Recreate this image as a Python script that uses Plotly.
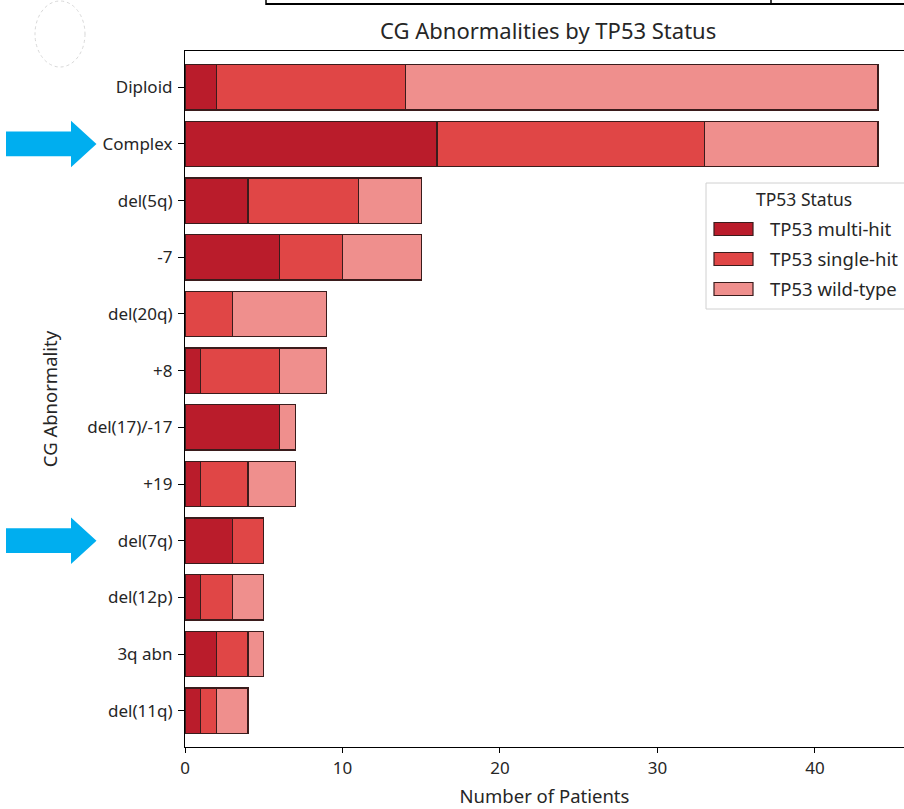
import plotly.graph_objects as go

# Cytogenetic abnormalities, top to bottom
categories = ["Diploid", "Complex", "del(5q)", "-7", "del(20q)", "+8",
              "del(17)/-17", "+19", "del(7q)", "del(12p)", "3q abn", "del(11q)"]

multi_hit = [2, 16, 4, 6, 0, 1, 6, 1, 3, 1, 2, 1]
single_hit = [12, 17, 7, 4, 3, 5, 0, 3, 2, 2, 2, 1]
wild_type = [30, 11, 4, 5, 6, 3, 1, 3, 0, 2, 1, 2]

series_names = ["TP53 multi-hit", "TP53 single-hit", "TP53 wild-type"]
series_values = [multi_hit, single_hit, wild_type]
series_colors = ["#BA1C2B", "#E04646", "#EF8F8D"]

highlighted = ["Complex", "del(7q)"]
x_ticks = [0, 10, 20, 30, 40]

FONT = "Noto Sans"
TEXT = "#262626"
EDGE = "#3a1c1c"

W, H = 904, 809
L, R, T, B = 185, 904, 51, 747


def px(x):
    return (x - L) / (R - L)


def py(y):
    return (B - y) / (B - T)


fig = go.Figure()
for name, vals, col in zip(series_names, series_values, series_colors):
    fig.add_trace(go.Bar(
        y=categories, x=vals, name=name, orientation="h", width=0.8,
        marker=dict(color=col, line=dict(color=EDGE, width=1.3)),
        showlegend=False,
    ))

n = len(categories)
pad = 0.64
x_max = 44 * 1.05 * (R - L) / (912.6 - L)

fig.update_layout(
    width=W, height=H,
    margin=dict(l=L, r=W - R, t=T, b=H - B),
    barmode="stack",
    plot_bgcolor="white", paper_bgcolor="white",
    font=dict(family=FONT, color=TEXT),
    xaxis=dict(
        range=[0, x_max], tickvals=x_ticks, showgrid=False, zeroline=False,
        showline=True, linecolor="black", linewidth=1.2, mirror=True,
        ticks="outside", ticklen=5, tickcolor="black",
        tickfont=dict(size=17, family=FONT, color=TEXT),
        title=dict(text="Number of Patients", font=dict(size=18.5, family=FONT, color=TEXT), standoff=12),
    ),
    yaxis=dict(
        type="category", categoryorder="array", categoryarray=categories,
        range=[n - 1 + pad, -pad], showgrid=False, zeroline=False,
        showline=True, linecolor="black", linewidth=1.2,
        ticks="outside", ticklen=6, tickcolor="black", ticklabelstandoff=2,
        tickfont=dict(size=17, family=FONT, color=TEXT),
        title=dict(text="CG Abnormality", font=dict(size=18.5, family=FONT, color=TEXT), standoff=24),
    ),
)

shapes = []
annotations = []

# Title
annotations.append(dict(
    text="CG Abnormalities by TP53 Status", x=px(548), y=py(30),
    xref="paper", yref="paper", showarrow=False, xanchor="center", yanchor="middle",
    font=dict(size=22, family=FONT, color=TEXT),
))

# Legend box
shapes.append(dict(type="rect", xref="paper", yref="paper",
                   x0=px(706), x1=px(912), y0=py(309), y1=py(183),
                   line=dict(color="#d0d0d0", width=1), fillcolor="rgba(255,255,255,0.85)",
                   layer="above"))
annotations.append(dict(
    text="TP53 Status", x=px(804), y=py(199), xref="paper", yref="paper",
    showarrow=False, xanchor="center", yanchor="middle",
    font=dict(size=17.5, family=FONT, color=TEXT),
))
for i, (name, col) in enumerate(zip(series_names, series_colors)):
    yc = 229 + i * 30
    shapes.append(dict(type="rect", xref="paper", yref="paper",
                       x0=px(714), x1=px(753), y0=py(yc + 6.5), y1=py(yc - 6.5),
                       fillcolor=col, line=dict(color=EDGE, width=1.2), layer="above"))
    annotations.append(dict(
        text=name, x=px(768), y=py(yc - 1), xref="paper", yref="paper",
        showarrow=False, xanchor="left", yanchor="middle",
        font=dict(size=18.5, family=FONT, color=TEXT),
    ))

# Cyan pointer arrows next to highlighted rows
for cat in highlighted:
    k = categories.index(cat)
    hs, hh = 0.2, 0.37
    path = (f"M{px(7)},{k - hs} L{px(72)},{k - hs} L{px(72)},{k - hh} "
            f"L{px(95)},{k} L{px(72)},{k + hh} L{px(72)},{k + hs} L{px(7)},{k + hs} Z")
    shapes.append(dict(type="path", xref="paper", yref="y", path=path,
                       fillcolor="#00AEEF", line=dict(color="#00AEEF", width=2)))

# Faint oval at the top left
shapes.append(dict(type="circle", xref="paper", yref="paper",
                   x0=px(35), x1=px(85), y0=py(67), y1=py(1),
                   line=dict(color="#d8d8d8", width=1, dash="dot")))

# Frame fragment along the top edge
shapes.append(dict(type="line", xref="paper", yref="paper",
                   x0=px(266), x1=px(904), y0=py(4), y1=py(4),
                   line=dict(color="black", width=2)))
for xv in (266, 771):
    shapes.append(dict(type="line", xref="paper", yref="paper",
                       x0=px(xv), x1=px(xv), y0=py(0), y1=py(5),
                       line=dict(color="black", width=1.5)))

fig.update_layout(shapes=shapes, annotations=annotations)
fig.write_html("out.html")
